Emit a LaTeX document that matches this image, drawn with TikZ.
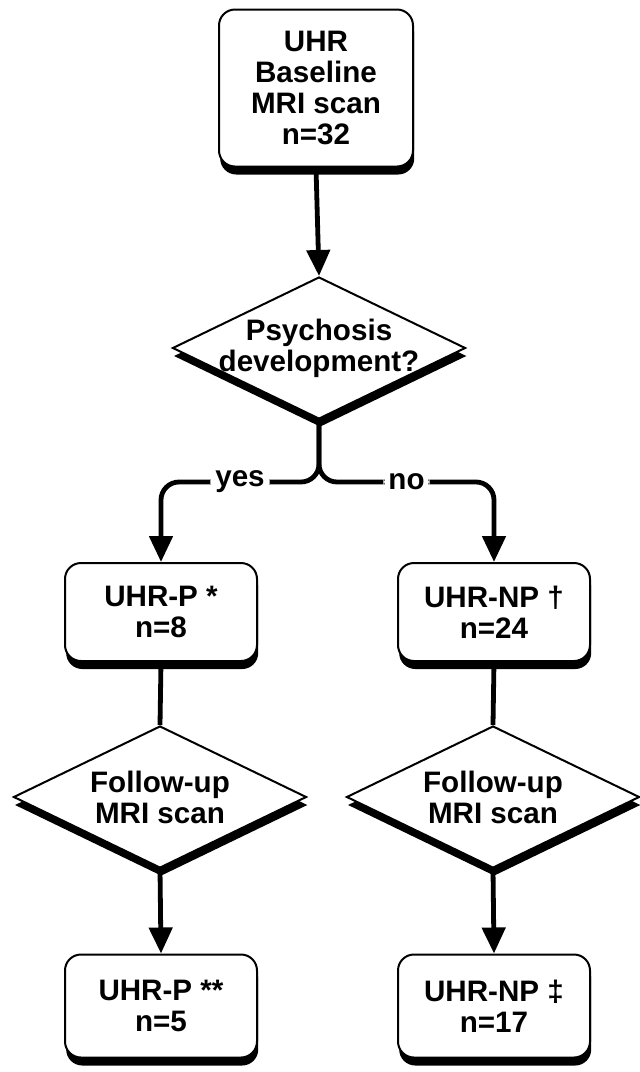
\documentclass[tikz,border=0pt]{standalone}
\usepackage{fontspec}
\setmainfont{Liberation Sans}
\usetikzlibrary{shapes.geometric,arrows.meta,shadows}
\newcommand{\flowfont}{\fontsize{14.8}{15.5}\selectfont\bfseries}
\tikzset{shade/.style={drop shadow={shadow xshift=0.6pt, shadow yshift=-4pt, fill=black, opacity=1}},
box/.style={draw, fill=white, line width=1pt, rounded corners=8pt, align=center, inner sep=2pt, font=\flowfont, shade},
bigbox/.style={box, minimum width=97pt, minimum height=78.5pt},
smallbox/.style={box, minimum width=96pt, minimum height=49pt},
decision/.style={diamond, draw, fill=white, line width=1pt, inner sep=0pt, minimum width=146.5pt, minimum height=71pt, shade},
dtext/.style={align=center, inner sep=0pt, font=\flowfont},
choice/.style={fill=white, inner sep=2.5pt, font=\flowfont},
link/.style={line width=2.4pt},
flow/.style={link, -{Triangle[width=11.5pt,length=13pt]}}}

\begin{document}
\begin{tikzpicture}[x=0.5pt,y=-0.5pt]

    \useasboundingbox (0,0) rectangle (639,1072);

    \node[bigbox] (base) at (316,88) {UHR\\Baseline\\MRI scan\\n=32};
    \node[decision, label={[dtext]center:{Psychosis\\development?}}] (psy) at (319,348) {};

    \coordinate (fork) at (319,482);

    \node[smallbox] (p) at (161,612) {UHR-P *\\n=8};
    \node[smallbox] (np) at (494,612) {UHR-NP \textdagger\\n=24};

    \node[decision, label={[dtext]center:{Follow-up\\MRI scan}}] (fup) at (160,797) {};
    \node[decision, label={[dtext]center:{Follow-up\\MRI scan}}] (funp) at (493,797) {};

    \node[smallbox, minimum height=51.5pt] (p2) at (161,1006) {UHR-P **\\n=5};
    \node[smallbox, minimum height=51.5pt] (np2) at (494,1006) {UHR-NP \textdaggerdbl\\n=17};


    \draw[flow] (base.south) -- (psy.north);

    \draw[flow, rounded corners=9pt] (psy.south) |- (p.north |- fork) node[choice, pos=0.75] {yes} -- (p.north);
    \draw[flow, rounded corners=9pt] (psy.south) |- (np.north |- fork) node[choice, pos=0.75] {no} -- (np.north);

    \foreach \a/\b in {p/fup, np/funp}
    \draw[link] (\a.south) -- (\b.north);

    \foreach \a/\b in {fup/p2, funp/np2}
    \draw[flow] (\a.south) -- (\b.north);

  \end{tikzpicture}
\end{document}
